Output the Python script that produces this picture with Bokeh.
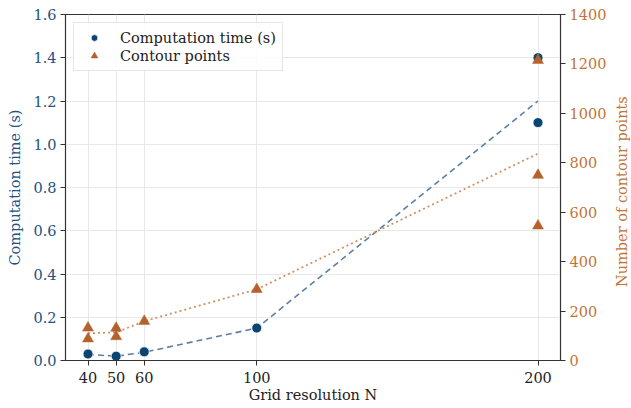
from bokeh.plotting import figure
from bokeh.layouts import row
from bokeh.models import Range1d, LinearAxis, FixedTicker, Legend, LegendItem, NumeralTickFormatter, Div
from bokeh.embed import file_html
from bokeh.resources import INLINE

# Data
time_N = [40, 50, 60, 100, 200, 200]
time_s = [0.03, 0.02, 0.04, 0.15, 1.40, 1.10]
pts_N = [40, 40, 50, 50, 60, 100, 200, 200, 200]
pts_val = [132, 88, 131, 97, 159, 288, 1215, 750, 545]
trend_N = [40, 50, 60, 100, 200]
time_trend = [0.028, 0.02, 0.038, 0.15, 1.20]
pts_trend = [110, 114, 159, 288, 837]
x_ticks = [40, 50, 60, 100, 200]
left_ticks = [0.0, 0.2, 0.4, 0.6, 0.8, 1.0, 1.2, 1.4, 1.6]
right_ticks = [0, 200, 400, 600, 800, 1000, 1200, 1400]

BLUE = "#0b4472"
BLUE_LINE = "#5b80a3"
BLUE_TXT = "#22527f"
ORANGE = "#b5612b"
ORANGE_LINE = "#d19162"
ORANGE_TXT = "#bf7438"
FONT = "DejaVu Serif"
FS = "14.5px"

p = figure(width=609, height=406, output_backend="svg", toolbar_location=None,
           x_range=Range1d(32, 208), y_range=Range1d(0, 1.6),
           min_border_left=65, min_border_right=49, min_border_top=14, min_border_bottom=46)
p.extra_y_ranges = {"pts": Range1d(0, 1400)}

p.outline_line_color = "#333333"
p.outline_line_width = 1.2
p.background_fill_color = "white"
p.border_fill_color = "white"

p.xgrid.ticker = FixedTicker(ticks=x_ticks)
p.xgrid.grid_line_color = "#e8e8e8"
p.ygrid.grid_line_color = "#e8e8e8"

xa = p.xaxis[0]
xa.ticker = FixedTicker(ticks=x_ticks)
xa.axis_label = "Grid resolution N"
ya = p.yaxis[0]
ya.ticker = FixedTicker(ticks=left_ticks)
ya.formatter = NumeralTickFormatter(format="0.0")
ya.axis_label = "Computation time (s)"
ya.major_label_text_color = BLUE_TXT
ya.axis_label_text_color = BLUE_TXT
ra = LinearAxis(y_range_name="pts", ticker=FixedTicker(ticks=right_ticks), axis_label=None)
ra.major_label_text_color = ORANGE_TXT
p.add_layout(ra, "right")

for ax in [xa, ya, ra]:
    ax.major_label_text_font = FONT
    ax.major_label_text_font_size = FS
    ax.axis_label_text_font = FONT
    ax.axis_label_text_font_size = FS
    ax.axis_label_text_font_style = "normal"
    ax.major_tick_in = 0
    ax.major_tick_out = 5
    ax.minor_tick_line_color = None
    ax.axis_line_color = "#333333"
    ax.major_tick_line_color = "#333333"
    ax.major_label_standoff = 4
xa.major_label_text_color = "#222222"
xa.axis_label_text_color = "#222222"
xa.major_label_standoff = 6
xa.axis_label_standoff = 1
ya.axis_label_standoff = 7
ra.axis_label_standoff = 0
ra.axis_label_text_font_size = "0px"

p.line(trend_N, time_trend, line_color=BLUE_LINE, line_width=1.6, line_dash="6 4")
p.line(trend_N, pts_trend, line_color=ORANGE_LINE, line_width=1.8, line_dash="2 3",
       y_range_name="pts")

r_time = p.scatter(time_N, time_s, marker="circle", size=10, fill_color=BLUE,
                   line_color="white", line_width=0.8)
r_pts = p.scatter(pts_N, pts_val, marker="triangle", size=11, fill_color=ORANGE,
                  line_color=ORANGE, line_width=0.5, y_range_name="pts")

legend = Legend(items=[LegendItem(label="Computation time (s)", renderers=[r_time]),
                       LegendItem(label="Contour points", renderers=[r_pts])],
                location="top_left")
legend.label_text_font = FONT
legend.label_text_font_size = FS
legend.label_text_color = "#222222"
legend.border_line_color = "#cccccc"
legend.border_line_width = 1
legend.background_fill_alpha = 0.85
legend.margin = 8
legend.padding = 6
legend.spacing = 1
legend.label_standoff = 12
legend.glyph_width = 28
legend.label_height = 17
legend.glyph_height = 17
p.add_layout(legend)

# right-hand axis title, reading bottom-to-top as in the reference
right_title = Div(text="Number of contour points", width=16, height=374,
                  styles={"writing-mode": "vertical-rl", "transform": "rotate(180deg)",
                          "display": "flex", "align-items": "center",
                          "justify-content": "center", "white-space": "nowrap",
                          "font-family": FONT, "font-size": FS, "color": ORANGE_TXT,
                          "line-height": "16px"})

layout = row(p, right_title)
open("out.html", "w").write(file_html(layout, INLINE))
